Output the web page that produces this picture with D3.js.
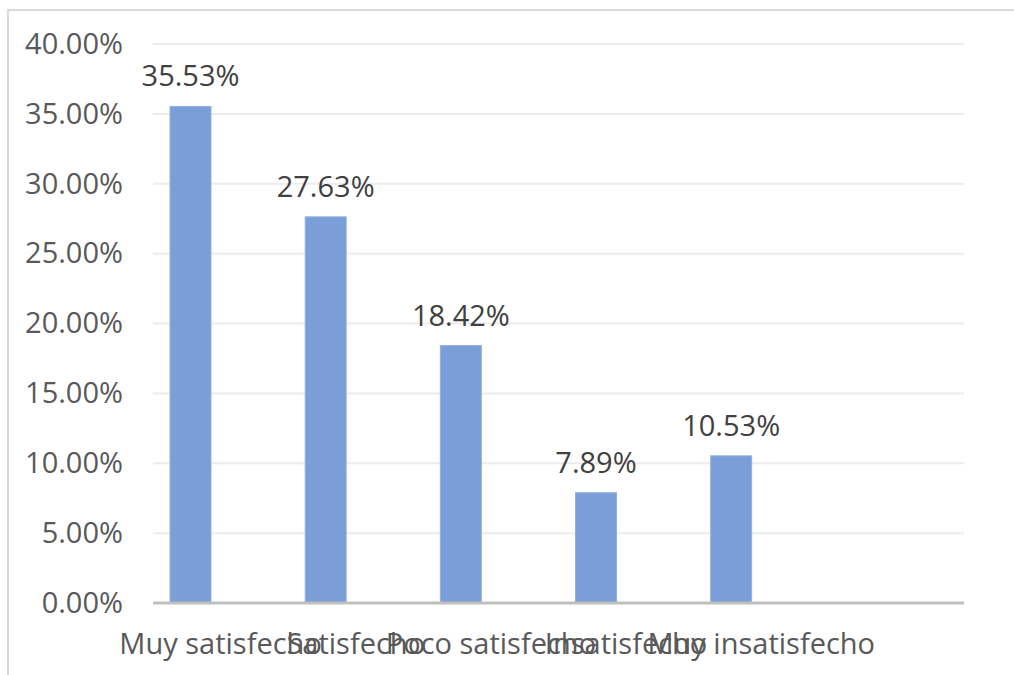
<!DOCTYPE html>
<html>
<head>
<meta charset="utf-8">
<script src="https://cdn.jsdelivr.net/npm/d3@7"></script>
<style>
  html, body { margin: 0; padding: 0; background: #fff; }
  svg { display: block; font-family: "Open Sans", "Noto Sans", sans-serif; }
</style>
</head>
<body>
<svg id="chart" width="1014" height="675"></svg>
<script>
// Satisfaction levels (the last slot is an empty category row)
const categories = ["Muy satisfecho", "Satisfecho", "Poco satisfecho", "Insatisfecho", "Muy insatisfecho", ""];
// Share of respondents per level, in percent
const values = [35.53, 27.63, 18.42, 7.89, 10.53];
// Value axis ticks, in percent
const yTicks = [0, 5, 10, 15, 20, 25, 30, 35, 40];

const svg = d3.select("#chart");
const W = 1014, H = 675;
const plot = { left: 153, right: 964, top: 44, bottom: 603 };
const fontSize = 29;

// chart frame
svg.append("rect")
  .attr("x", 8).attr("y", 10)
  .attr("width", W + 10).attr("height", H + 10)
  .attr("fill", "none").attr("stroke", "#d9d9d9").attr("stroke-width", 2);

const x = d3.scaleBand().domain(categories).range([plot.left, plot.right]);
const y = d3.scaleLinear().domain([0, 40]).range([plot.bottom, plot.top]);

// horizontal gridlines
svg.append("g").selectAll("line")
  .data(yTicks.filter(t => t > 0))
  .join("line")
  .attr("x1", plot.left).attr("x2", plot.right)
  .attr("y1", d => y(d)).attr("y2", d => y(d))
  .attr("stroke", "#ececec").attr("stroke-width", 2);

// value axis labels
const yAxis = d3.axisLeft(y).tickValues(yTicks)
  .tickFormat(d => d3.format(".2f")(d) + "%")
  .tickSize(0).tickPadding(30);
const gy = svg.append("g").attr("transform", `translate(${plot.left},0)`).call(yAxis);
gy.select(".domain").remove();
gy.selectAll("text")
  .attr("fill", "#595959").attr("font-size", fontSize)
  .attr("font-family", "\"Open Sans\", \"Noto Sans\", sans-serif");

// bars sit left of each category centre
const barW = x.bandwidth() * 0.303;
const barOff = x.bandwidth() * 0.126;
const data = values.map((v, i) => ({ c: categories[i], v }));

svg.append("g").selectAll("rect")
  .data(data)
  .join("rect")
  .attr("x", d => x(d.c) + barOff)
  .attr("y", d => y(d.v))
  .attr("width", barW)
  .attr("height", d => y(0) - y(d.v))
  .attr("fill", "#7a9ed7")
  .attr("stroke", "#8fb0e0").attr("stroke-width", 1);

// data labels
svg.append("g").selectAll("text")
  .data(data)
  .join("text")
  .attr("x", d => x(d.c) + barOff + barW / 2)
  .attr("y", d => y(d.v) - 20)
  .attr("text-anchor", "middle")
  .attr("fill", "#404040").attr("font-size", fontSize)
  .text(d => d3.format(".2f")(d.v) + "%");

// category axis
const xAxis = d3.axisBottom(x).tickSize(0).tickPadding(0);
const gx = svg.append("g").attr("transform", `translate(0,${plot.bottom})`).call(xAxis);
gx.select(".domain").attr("stroke", "#bfbfbf").attr("stroke-width", 3)
  .attr("d", `M${plot.left},0H${plot.right}`);
gx.selectAll("text")
  .attr("dy", null).attr("y", 51)
  .attr("fill", "#595959").attr("font-size", fontSize)
  .attr("font-family", "\"Open Sans\", \"Noto Sans\", sans-serif");
</script>
</body>
</html>
